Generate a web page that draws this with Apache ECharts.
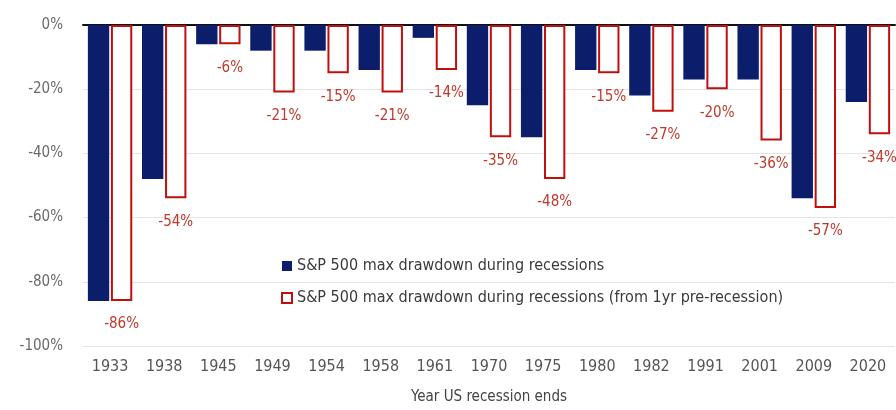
<!DOCTYPE html>
<html><head><meta charset="utf-8">
<script src="https://cdn.jsdelivr.net/npm/echarts@6/dist/echarts.min.js"></script>
<style>html,body{margin:0;padding:0;background:#fff}#c{width:896px;height:410px}</style>
</head><body><div id="c"></div>
<script>
const years = ['1933','1938','1945','1949','1954','1958','1961','1970','1975','1980','1982','1991','2001','2009','2020'];
const drawdown = [-86,-48,-6,-8,-8,-14,-4,-25,-35,-14,-22,-17,-17,-54,-24];
const drawdownPre = [-86,-54,-6,-21,-15,-21,-14,-35,-48,-15,-27,-20,-36,-57,-34];
const yTicks = [0,-20,-40,-60,-80,-100];
const nameA = 'S&P 500 max drawdown during recessions';
const nameB = 'S&P 500 max drawdown during recessions (from 1yr pre-recession)';
const FONT = '"Liberation Sans Narrow","DejaVu Sans Condensed","Open Sans",sans-serif';
const chart = echarts.init(document.getElementById('c'));
chart.setOption({
  animation:false,
  textStyle:{fontFamily:FONT},
  grid:{left:83,right:1,top:25,bottom:63},
  legend:{orient:'vertical',left:276,top:253,itemGap:16,itemWidth:10,itemHeight:10,
    icon:'rect',textStyle:{fontFamily:FONT,fontSize:16,color:'#3a3a3a'},data:[nameA,nameB]},
  xAxis:[{type:'category',data:years,position:'bottom',
    axisLine:{show:false},axisTick:{show:false},
    axisLabel:{fontSize:16,color:'#555',margin:13,fontFamily:FONT},
    name:'Year US recession ends',nameLocation:'middle',nameGap:44,
    nameTextStyle:{fontSize:15,color:'#444',fontFamily:FONT}},
   {type:'category',data:years,position:'top',axisLine:{show:true,lineStyle:{color:'#111',width:2}},
    axisTick:{show:false},axisLabel:{show:false}}],
  yAxis:{type:'value',min:-100,max:0,interval:20,
    axisLabel:{formatter:v=>v+'%',fontSize:15,color:'#6a6a6a',margin:20,fontFamily:FONT},
    axisLine:{show:false},axisTick:{show:false},
    splitLine:{lineStyle:{color:'#e4e4e4',width:1}}},
  series:[
    {name:nameA,type:'bar',data:drawdown,barGap:'8%',barCategoryGap:'18%',
      itemStyle:{color:'#0b1d6b'}},
    {name:nameB,type:'bar',data:drawdownPre,
      itemStyle:{color:'#ffffff',borderColor:'#c0100e',borderWidth:2},
      label:{show:true,position:'bottom',distance:16,formatter:p=>p.value+'%',
        color:'#c0392b',fontSize:15,fontFamily:FONT}}
  ]
});
</script></body></html>
